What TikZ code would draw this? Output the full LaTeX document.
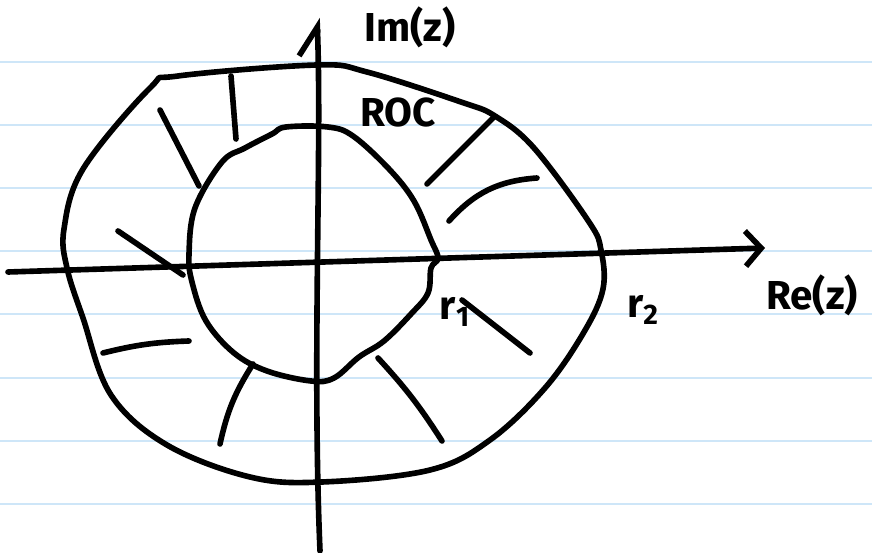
\documentclass[tikz,border=0pt]{standalone}
\usepackage{fontspec}
\setmainfont{Fira Sans}
\usetikzlibrary{arrows.meta}
\definecolor{ruleblue}{RGB}{206,230,248}

\begin{document}
\begin{tikzpicture}[
  x=0.02cm, y=-0.02cm,
  rule/.style={draw=ruleblue, line width=1.1pt},
  pen/.style={line width=3.2pt, line cap=round, line join=round},
  axis/.style={pen, -{Straight Barb[length=9pt, width=20pt]}},
  handtext/.style={font=\fontsize{23}{27}\selectfont\bfseries, inner sep=0pt}
]
\useasboundingbox[fill=white] (0,0) rectangle (872,553);
% ruled paper
\foreach \y in {62,125,188,251,314,378,441,504}
  \draw[rule] (0,\y) -- (872,\y);

% axes
\coordinate (reStart) at (8,272);
\coordinate (reEnd) at (765,248);
\coordinate (imStart) at (320,551);
\coordinate (imEnd) at (317,18);
\draw[axis] (reStart) -- (reEnd);
\draw[pen, -{Straight Barb[left, length=16pt, width=22pt]}] (imStart) .. controls (312,360) and (322,150) .. (imEnd);

% outer boundary r2
\draw[pen] plot[smooth cycle, tension=0.6] coordinates {
  (178,76) (317,65) (367,72) (461,102) (495,116) (534,148) (589,222)
  (601,250) (603,289) (584,332) (545,388) (490,440) (430,470) (322,482)
  (250,477) (167,445) (111,395) (83,318) (67,268) (64,229) (83,169) (150,88)};

% inner boundary r1
\draw[pen] plot[smooth cycle, tension=0.6] coordinates {
  (286,127) (328,127) (353,136) (389,169) (414,201) (431,240) (438,258)
  (431,268) (428,293) (411,314) (384,341) (359,357) (334,378) (311,381)
  (267,371) (234,353) (206,321) (192,282) (189,254) (195,208) (222,162)
  (245,148) (272,134)};

% hatching of the ROC
\draw[pen] (231,76) -- (236,139);
\draw[pen] (160,110) -- (199,186);
\draw[pen] (118,231) -- (183,275);
\draw[pen] (103,353) to[bend left=6] (189,341);
\draw[pen] (253,364) to[bend right=10] (220,444);
\draw[pen] (378,358) to[bend left=5] (442,441);
\draw[pen] (462,300) -- (530,353);
\draw[pen] (449,221) to[bend left=22] (537,178);
\draw[pen] (427,184) -- (494,117);

% labels
\node[handtext] (imLabel) at (410,27) {Im(z)};
\node[handtext] (rocLabel) at (398,113) {ROC};
\node[handtext] (reLabel) at (812,295) {Re(z)};
\node[handtext] (rTwo) at (643,310) {r\textsubscript{2}};
\node[handtext] (rOne) at (455,312) {r\textsubscript{1}};
\end{tikzpicture}
\end{document}
